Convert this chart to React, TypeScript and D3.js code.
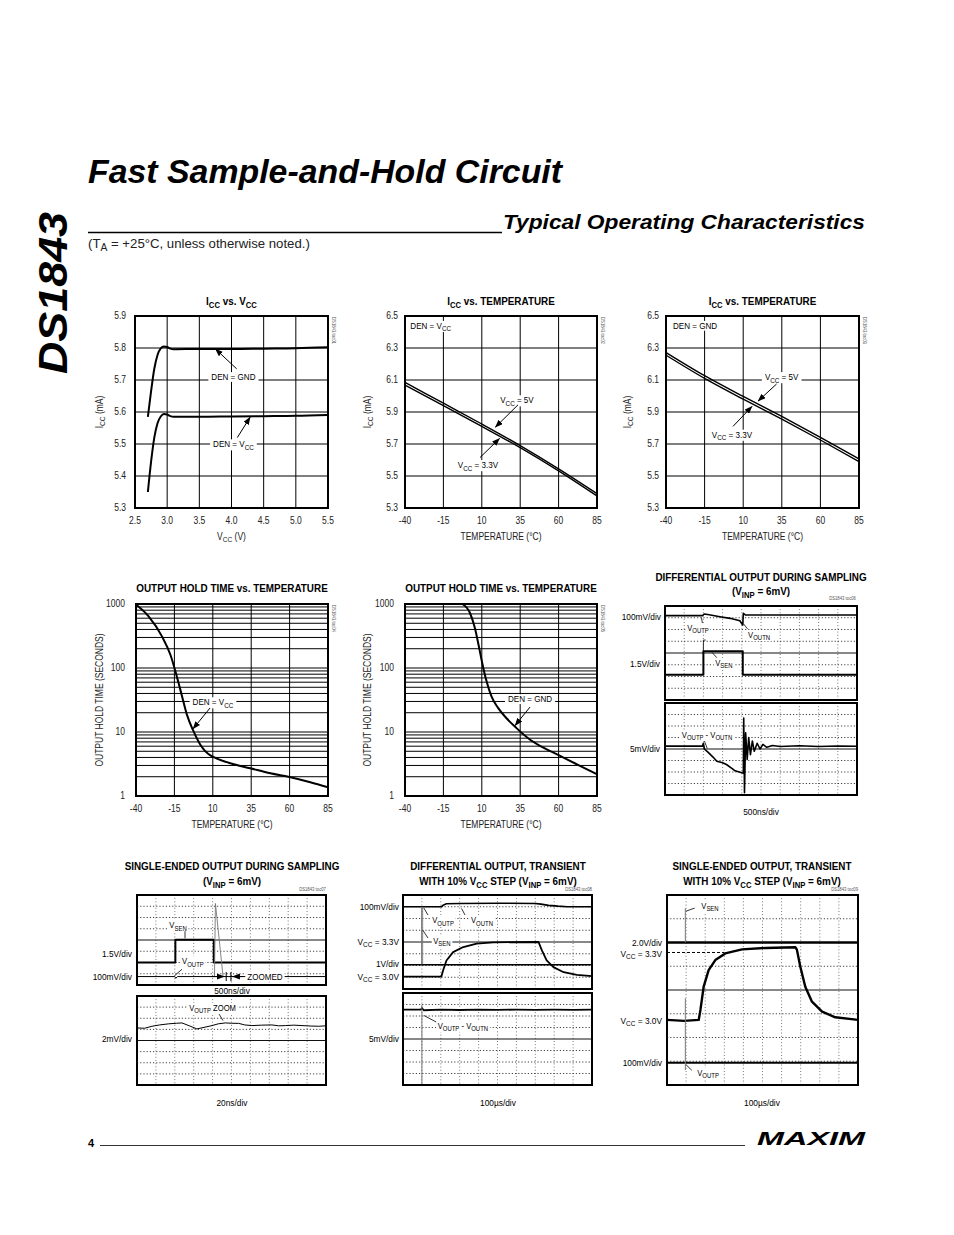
import React, { useLayoutEffect, useRef, useState } from "react";
import * as d3 from "d3";

type Pt = [number, number];

const FONT = "'Liberation Sans Narrow', 'Liberation Sans', Arial, sans-serif";

// ---------- Chart 1: ICC vs VCC ----------
const vccTicks = [2.5, 3.0, 3.5, 4.0, 4.5, 5.0, 5.5];
const iccVsVccTicks = [5.3, 5.4, 5.5, 5.6, 5.7, 5.8, 5.9];
const iccVsVccDenGnd: Pt[] = [[2.7, 5.585], [2.75, 5.665], [2.8, 5.735], [2.85, 5.778], [2.9, 5.799], [2.95, 5.805], [3.0, 5.803], [3.05, 5.798], [3.1, 5.796], [3.5, 5.797], [4.0, 5.797], [4.5, 5.798], [5.0, 5.799], [5.5, 5.802]];
const iccVsVccDenVcc: Pt[] = [[2.7, 5.35], [2.75, 5.445], [2.8, 5.52], [2.85, 5.565], [2.9, 5.586], [2.95, 5.594], [3.0, 5.592], [3.05, 5.587], [3.1, 5.585], [3.5, 5.585], [4.0, 5.586], [4.5, 5.587], [5.0, 5.588], [5.5, 5.591]];

// ---------- Charts 2 & 3: ICC vs temperature ----------
const tempTicks = [-40, -15, 10, 35, 60, 85];
const iccVsTempTicks = [5.3, 5.5, 5.7, 5.9, 6.1, 6.3, 6.5];
const iccTempDenVcc5V: Pt[] = [[-40, 6.085], [-15, 5.955], [10, 5.825], [35, 5.69], [60, 5.545], [85, 5.39]];
const iccTempDenVcc33V: Pt[] = [[-40, 6.068], [-15, 5.94], [10, 5.81], [35, 5.677], [60, 5.532], [85, 5.375]];
const iccTempDenGnd5V: Pt[] = [[-40, 6.272], [-15, 6.127], [10, 5.997], [35, 5.872], [60, 5.742], [85, 5.607]];
const iccTempDenGnd33V: Pt[] = [[-40, 6.255], [-15, 6.11], [10, 5.98], [35, 5.855], [60, 5.725], [85, 5.59]];

// ---------- Charts 4 & 5: output hold time ----------
const holdTicks = [1, 10, 100, 1000];
const holdDenVcc: Pt[] = [[-40, 980], [-31.8, 640], [-23.1, 312], [-17.6, 161], [-13.7, 78], [-10, 36], [-6.8, 18.5], [-2.5, 10.2], [1.9, 6.3], [8.4, 4.3], [10.6, 4.05], [21.4, 3.24], [34.4, 2.71], [47.5, 2.26], [60.5, 1.96], [73.5, 1.64], [85, 1.37]];
const holdDenGnd: Pt[] = [[-2.7, 1000], [2.3, 723], [5.5, 421], [8.1, 217], [10.3, 119], [13.1, 62], [16.3, 36], [20.7, 23.6], [26.1, 16.4], [32.6, 11.5], [40.2, 8.0], [48.8, 5.9], [59.7, 4.4], [70.5, 3.25], [79.2, 2.55], [85, 2.18]];

// ---------- Scope traces (x: divisions 0..10, y: divisions 0..8 from top) ----------
const toc6Vsen: Pt[] = [[0, 5.85], [2.0, 5.85], [2.0, 3.86], [4.05, 3.86], [4.05, 5.85], [10, 5.85]];
const toc6VsenGlitch: Pt[] = [[2.0, 3.86], [2.0, 2.9], [2.12, 2.9]];
const toc6Vout: Pt[] = [[0, 0.82], [1.95, 0.82], [2.05, 0.68], [2.3, 0.75], [2.86, 0.91], [3.39, 1.05], [3.9, 1.25], [4.05, 1.62], [4.08, 0.62], [4.2, 0.77], [10, 0.77]];
const toc6Diff: Pt[] = [[0, 3.75], [1.95, 3.75], [2.0, 3.5], [2.05, 4.0], [2.25, 4.3], [2.5, 4.7], [2.7, 5.06], [3.0, 5.2], [3.2, 5.35], [3.5, 5.7], [3.65, 5.9], [4.0, 6.07], [4.08, 6.1], [4.1, 1.3], [4.14, 7.8], [4.2, 2.6], [4.28, 4.9], [4.36, 3.0], [4.45, 4.5], [4.55, 3.3], [4.65, 4.2], [4.8, 3.5], [4.95, 4.0], [5.1, 3.6], [5.3, 3.85], [5.6, 3.7], [6.0, 3.78], [7, 3.72], [8, 3.78], [9, 3.74], [10, 3.76]];

const toc7Vsen: Pt[] = [[0, 6.0], [2.03, 6.0], [2.03, 3.97], [4.06, 3.97], [4.06, 6.0], [10, 6.0]];
const toc7Spike: Pt[] = [[4.1, 7.2], [4.15, 0.75], [4.55, 7.2]];
const toc7Voutp: Pt[] = [[0, 7.25], [2.0, 7.25], [2.05, 7.4], [2.15, 7.25], [10, 7.25]];
const toc7Zoom: Pt[] = [[0, 2.87], [0.4, 2.9], [0.79, 2.72], [1.2, 2.6], [1.68, 2.5], [2.1, 2.45], [2.38, 2.42], [2.8, 2.7], [3.17, 2.96], [3.6, 2.8], [3.97, 2.66], [4.3, 2.5], [4.67, 2.42], [5.0, 2.45], [5.38, 2.46], [5.7, 2.6], [6.08, 2.66], [6.6, 2.62], [7.14, 2.6], [7.5, 2.68], [7.85, 2.66], [8.3, 2.62], [8.73, 2.66], [9.2, 2.7], [9.61, 2.72], [10, 2.68]];

const toc8Vout: Pt[] = [[0, 1.0], [2.03, 1.0], [2.15, 0.85], [2.3, 0.75], [3, 0.72], [5, 0.7], [7.0, 0.72], [7.3, 0.78], [7.7, 0.88], [8.2, 0.95], [8.7, 1.0], [10, 1.0]];
const toc8Vsen: Pt[] = [[0, 6.94], [2.03, 6.94], [2.12, 6.43], [2.3, 5.57], [2.65, 4.86], [3.19, 4.43], [3.9, 4.14], [4.78, 4.03], [7.17, 4.0], [7.35, 4.71], [7.6, 5.57], [7.96, 6.14], [8.5, 6.57], [9.2, 6.8], [10, 6.9]];
const toc8Ref: Pt[] = [[0, 5.94], [10, 5.94]];
const toc8SpikeA: Pt[] = [[0.98, 1.0], [0.98, 5.9]];
const toc8SpikeB: Pt[] = [[1.04, 1.0], [1.04, 5.9]];
const toc8Diff: Pt[] = [[0, 1.45], [0.95, 1.45], [1.0, 1.3], [1.1, 1.5], [2, 1.45], [3, 1.48], [4, 1.44], [5, 1.46], [6, 1.45], [7, 1.47], [8, 1.45], [9, 1.46], [10, 1.45]];
const toc8DiffSpike: Pt[] = [[1.0, 1.0], [1.0, 8.0]];

const toc9Vsen: Pt[] = [[0, 2.0], [10, 2.0]];
const toc9VsenSpike: Pt[] = [[0.96, 2.0], [0.96, 0.56]];
const toc9Step: Pt[] = [[0, 5.26], [0.9, 5.3], [1.66, 5.26], [1.75, 4.84], [1.92, 3.86], [2.18, 3.16], [2.53, 2.74], [3.05, 2.46], [3.93, 2.29], [5.15, 2.23], [6.72, 2.2], [6.8, 2.3], [6.98, 3.02], [7.24, 3.86], [7.59, 4.49], [8.12, 4.91], [8.81, 5.15], [10, 5.26]];
const toc9Voutp: Pt[] = [[0, 7.06], [10, 7.06]];
const toc9VoutpSpike: Pt[] = [[0.96, 4.35], [0.96, 7.37]];
const toc9VccMark: Pt[] = [[0, 2.42], [3.0, 2.42]];

// ---------- helpers ----------
function rich(text: string, fs: number) {
  const parts = text.split(/(_\{[^}]*\})/);
  const out: any[] = [];
  let shifted = false;
  const sh = fs * 0.25;
  parts.forEach((p, i) => {
    if (!p) return;
    if (p.startsWith("_{")) {
      out.push(<tspan key={i} fontSize={fs * 0.78} dy={shifted ? 0 : sh}>{p.slice(2, -1)}</tspan>);
      shifted = true;
    } else {
      out.push(<tspan key={i} dy={shifted ? -sh : 0}>{p}</tspan>);
      shifted = false;
    }
  });
  return out;
}

function Txt({ x, y, text, fs = 9.5, anchor = "start", weight = 400, italic = false, rotate = 0, bg = false, pad = 1.5, fill = "#000", textLength, sx = 0.85 }: any) {
  const ref = useRef<SVGTextElement>(null);
  const [bb, setBb] = useState<any>(null);
  useLayoutEffect(() => {
    if (bg && ref.current) {
      const b = ref.current.getBBox();
      setBb({ x: b.x, y: b.y, w: b.width, h: b.height });
    }
  }, [bg, x, y, text, fs]);
  let tf = "";
  if (rotate) tf += `rotate(${rotate},${x},${y}) `;
  if (sx !== 1) tf += `translate(${x},${y}) scale(${sx},1) translate(${-x},${-y})`;
  return (
    <g transform={tf || undefined}>
      {bg && bb && <rect x={bb.x - pad / sx} y={bb.y + 0.5} width={bb.w + (2 * pad) / sx} height={bb.h - 1} fill="#fff" />}
      <text
        ref={ref}
        x={x}
        y={y}
        fontSize={fs}
        textAnchor={anchor}
        fontWeight={weight}
        fontStyle={italic ? "italic" : "normal"}
        fill={fill}
        textLength={textLength}
        lengthAdjust={textLength ? "spacingAndGlyphs" : undefined}
      >
        {rich(text, fs)}
      </text>
    </g>
  );
}

// centered label (y = visual center)
const CL = (props: any) => <Txt {...props} y={props.y + (props.fs ?? 9) * 0.36} fs={props.fs ?? 9} anchor={props.anchor ?? "middle"} />;

function Arrow({ x1, y1, x2, y2, head = true, w = 1 }: any) {
  return <line x1={x1} y1={y1} x2={x2} y2={y2} stroke="#000" strokeWidth={w} markerEnd={head ? "url(#ah)" : undefined} />;
}

const TITLE_FS = 11.5;
const TITLE_SX = 0.86;

function XYChart(p: any) {
  const x = d3.scaleLinear(p.xDomain, [p.left, p.left + p.width]);
  const y: any = (p.yLog ? d3.scaleLog() : d3.scaleLinear()).domain(p.yDomain).range([p.top + p.height, p.top]);
  const hLines: number[] = p.yLog ? y.ticks() : p.yTicks;
  const right = p.left + p.width;
  const bottom = p.top + p.height;
  return (
    <g>
      <Txt x={p.left + p.width / 2} y={p.titleY} text={p.title} fs={TITLE_FS} weight={700} anchor="middle" sx={TITLE_SX} />
      {p.xTicks.slice(1, -1).map((t: number) => (
        <line key={"gx" + t} x1={x(t)} x2={x(t)} y1={p.top} y2={bottom} stroke="#000" strokeWidth={1} />
      ))}
      {hLines.filter((t) => t > p.yDomain[0] && t < p.yDomain[1]).map((t) => (
        <line key={"gy" + t} x1={p.left} x2={right} y1={y(t)} y2={y(t)} stroke="#000" strokeWidth={1} />
      ))}
      {p.children(x, y)}
      <rect x={p.left} y={p.top} width={p.width} height={p.height} fill="none" stroke="#000" strokeWidth={2} />
      {p.xTicks.map((t: number) => (
        <Txt key={"tx" + t} x={x(t)} y={p.xTickY} text={p.xFmt(t)} anchor="middle" fs={10} fill="#222" />
      ))}
      {p.yTicks.map((t: number) => (
        <Txt key={"ty" + t} x={p.left - p.yGap} y={y(t) + 3.5} text={p.yFmt(t)} anchor="end" fs={10} fill="#222" />
      ))}
      <Txt x={p.left + p.width / 2} y={p.xTitleY} text={p.xTitle} anchor="middle" fs={10} fill="#222" />
      <Txt x={p.yTitleX} y={p.top + p.height / 2} text={p.yTitle} anchor="middle" fs={10} rotate={-90} fill="#222" />
      <Txt x={right + 3.5} y={p.top + 1} text={p.toc} fs={5} rotate={90} fill="#555" />
    </g>
  );
}

function ScopeFrame({ left, top, width, height, children }: any) {
  const x = d3.scaleLinear([0, 10], [left, left + width]);
  const y = d3.scaleLinear([0, 8], [top, top + height]);
  return (
    <g>
      {d3.range(1, 10).map((i) => (
        <line key={"v" + i} x1={x(i)} x2={x(i)} y1={top} y2={top + height} stroke="#444" strokeWidth={0.8} strokeDasharray="0.9 2.3" />
      ))}
      {d3.range(1, 8).map((i) => (
        <line key={"h" + i} x1={left} x2={left + width} y1={y(i)} y2={y(i)} stroke="#111" strokeWidth={i === 4 ? 1 : 0.8} strokeDasharray={i === 4 ? undefined : "1.2 2"} />
      ))}
      {children(x, y)}
      <rect x={left} y={top} width={width} height={height} fill="none" stroke="#000" strokeWidth={2} />
    </g>
  );
}

function trace(x: any, y: any, data: Pt[], w = 1.6, color = "#000", dash?: string) {
  const g = d3.line<Pt>().x((d) => x(d[0])).y((d) => y(d[1]));
  return <path d={g(data) || ""} fill="none" stroke={color} strokeWidth={w} strokeDasharray={dash} strokeLinejoin="round" />;
}

function smooth(x: any, y: any, data: Pt[], w = 2) {
  const g = d3.line<Pt>().x((d) => x(d[0])).y((d) => y(d[1])).curve(d3.curveMonotoneX);
  return <path d={g(data) || ""} fill="none" stroke="#000" strokeWidth={w} strokeLinejoin="round" />;
}

const f1 = d3.format(".1f");
const fInt = (v: number) => String(v);
const DIV_FS = 9.8;

export default function App() {
  return (
    <div style={{ position: "absolute", left: 0, top: 0 }}>
      <svg width={954} height={1235} viewBox="0 0 954 1235" style={{ display: "block", background: "#fff" }} fontFamily={FONT}>
        <defs>
          <marker id="ah" markerUnits="userSpaceOnUse" markerWidth={8} markerHeight={6} refX={7.5} refY={3} orient="auto">
            <path d="M0,0 L8,3 L0,6 Z" fill="#000" />
          </marker>
        </defs>
        <rect x={0} y={0} width={954} height={1235} fill="#fff" />

        {/* Page header */}
        <Txt x={67} y={374} rotate={-90} text="DS1843" fs={40} weight={700} italic textLength={162} sx={1} />
        <Txt x={88} y={183} text="Fast Sample-and-Hold Circuit" fs={33} weight={700} italic textLength={474} sx={1} />
        <line x1={88} x2={502} y1={232.5} y2={232.5} stroke="#000" strokeWidth={1.5} />
        <Txt x={503} y={229} text="Typical Operating Characteristics" fs={20} weight={700} italic textLength={362} sx={1} />
        <Txt x={88} y={248} text="(T_{A} = +25°C, unless otherwise noted.)" fs={13.2} fill="#222" sx={1} />

        {/* Chart 1 */}
        <XYChart left={135} top={316} width={193} height={192} xDomain={[2.5, 5.5]} yDomain={[5.3, 5.9]}
          xTicks={vccTicks} yTicks={iccVsVccTicks} xFmt={f1} yFmt={f1} yGap={9}
          title="I_{CC} vs. V_{CC}" titleY={305} xTitle="V_{CC} (V)" yTitle="I_{CC} (mA)" yTitleX={103}
          xTickY={524} xTitleY={540} toc="DS1843 toc01">
          {(x: any, y: any) => (
            <g>
              {smooth(x, y, iccVsVccDenGnd, 2)}
              {smooth(x, y, iccVsVccDenVcc, 2)}
              <CL x={x(4.03)} y={y(5.71)} text="DEN = GND" fs={9.5} bg pad={3} />
              <Arrow x1={x(4.08)} y1={y(5.735)} x2={x(3.75)} y2={y(5.797)} />
              <CL x={x(4.03)} y={y(5.5)} text="DEN = V_{CC}" fs={9.5} bg pad={3} />
              <Arrow x1={x(4.09)} y1={y(5.52)} x2={x(4.29)} y2={y(5.584)} />
            </g>
          )}
        </XYChart>

        {/* Chart 2 */}
        <XYChart left={405} top={316} width={192} height={192} xDomain={[-40, 85]} yDomain={[5.3, 6.5]}
          xTicks={tempTicks} yTicks={iccVsTempTicks} xFmt={fInt} yFmt={f1} yGap={7}
          title="I_{CC} vs. TEMPERATURE" titleY={305} xTitle="TEMPERATURE (°C)" yTitle="I_{CC} (mA)" yTitleX={371}
          xTickY={524} xTitleY={540} toc="DS1843 toc02">
          {(x: any, y: any) => (
            <g>
              {smooth(x, y, iccTempDenVcc5V, 1.4)}
              {smooth(x, y, iccTempDenVcc33V, 1.4)}
              <CL x={x(-36.5)} y={y(6.44)} text="DEN = V_{CC}" fs={9.5} anchor="start" bg pad={2} />
              <CL x={x(32.9)} y={y(5.975)} text="V_{CC} = 5V" fs={9.5} bg pad={3} />
              <Arrow x1={x(33.6)} y1={y(5.945)} x2={x(18.8)} y2={y(5.805)} />
              <CL x={x(7.5)} y={y(5.57)} text="V_{CC} = 3.3V" fs={9.5} bg pad={3} />
              <Arrow x1={x(8.8)} y1={y(5.615)} x2={x(21.6)} y2={y(5.735)} />
            </g>
          )}
        </XYChart>

        {/* Chart 3 */}
        <XYChart left={666} top={316} width={193} height={192} xDomain={[-40, 85]} yDomain={[5.3, 6.5]}
          xTicks={tempTicks} yTicks={iccVsTempTicks} xFmt={fInt} yFmt={f1} yGap={7}
          title="I_{CC} vs. TEMPERATURE" titleY={305} xTitle="TEMPERATURE (°C)" yTitle="I_{CC} (mA)" yTitleX={631}
          xTickY={524} xTitleY={540} toc="DS1843 toc03">
          {(x: any, y: any) => (
            <g>
              {smooth(x, y, iccTempDenGnd5V, 1.4)}
              {smooth(x, y, iccTempDenGnd33V, 1.4)}
              <CL x={x(-35.5)} y={y(6.44)} text="DEN = GND" fs={9.5} anchor="start" bg pad={2} />
              <CL x={x(34.9)} y={y(6.12)} text="V_{CC} = 5V" fs={9.5} bg pad={3} />
              <Arrow x1={x(31.6)} y1={y(6.075)} x2={x(19.6)} y2={y(5.968)} />
              <CL x={x(2.7)} y={y(5.76)} text="V_{CC} = 3.3V" fs={9.5} bg pad={3} />
              <Arrow x1={x(3.4)} y1={y(5.81)} x2={x(15.7)} y2={y(5.935)} />
            </g>
          )}
        </XYChart>

        {/* Chart 4 */}
        <XYChart left={136} top={604} width={192} height={192} xDomain={[-40, 85]} yDomain={[1, 1000]} yLog
          xTicks={tempTicks} yTicks={holdTicks} xFmt={fInt} yFmt={fInt} yGap={11}
          title="OUTPUT HOLD TIME vs. TEMPERATURE" titleY={592} xTitle="TEMPERATURE (°C)" yTitle="OUTPUT HOLD TIME (SECONDS)" yTitleX={103}
          xTickY={812} xTitleY={828} toc="DS1843 toc04">
          {(x: any, y: any) => (
            <g>
              {smooth(x, y, holdDenVcc, 2)}
              <CL x={x(10.1)} y={y(29.5)} text="DEN = V_{CC}" fs={9.5} bg pad={3} />
              <Arrow x1={x(8.2)} y1={y(23.7)} x2={x(-2.9)} y2={y(11.2)} />
            </g>
          )}
        </XYChart>

        {/* Chart 5 */}
        <XYChart left={405} top={604} width={192} height={192} xDomain={[-40, 85]} yDomain={[1, 1000]} yLog
          xTicks={tempTicks} yTicks={holdTicks} xFmt={fInt} yFmt={fInt} yGap={11}
          title="OUTPUT HOLD TIME vs. TEMPERATURE" titleY={592} xTitle="TEMPERATURE (°C)" yTitle="OUTPUT HOLD TIME (SECONDS)" yTitleX={371}
          xTickY={812} xTitleY={828} toc="DS1843 toc05">
          {(x: any, y: any) => (
            <g>
              {smooth(x, y, holdDenGnd, 2)}
              <CL x={x(41.4)} y={y(32.8)} text="DEN = GND" fs={9.5} bg pad={3} />
              <Arrow x1={x(41.4)} y1={y(24.5)} x2={x(31.6)} y2={y(12.6)} />
            </g>
          )}
        </XYChart>

        {/* Chart 6 */}
        <Txt x={761} y={581} text="DIFFERENTIAL OUTPUT DURING SAMPLING" fs={TITLE_FS} weight={700} anchor="middle" sx={TITLE_SX} />
        <Txt x={761} y={595} text="(V_{INP} = 6mV)" fs={TITLE_FS} weight={700} anchor="middle" sx={TITLE_SX} />
        <Txt x={856} y={600} text="DS1843 toc06" fs={5} anchor="end" fill="#555" />
        <ScopeFrame left={665} top={606} width={192} height={94}>
          {(x: any, y: any) => (
            <g>
              {trace(x, y, toc6Vsen, 2)}
              {trace(x, y, toc6VsenGlitch, 0.8)}
              {trace(x, y, toc6Vout, 1.6)}
              <line x1={x(1.95)} y1={y(1.5)} x2={x(1.9)} y2={y(0.98)} stroke="#000" strokeWidth={0.8} />
              <CL x={x(1.72)} y={y(1.87)} text="V_{OUTP}" bg />
              <line x1={x(4.3)} y1={y(1.95)} x2={x(4.08)} y2={y(1.5)} stroke="#000" strokeWidth={0.8} />
              <CL x={x(4.9)} y={y(2.47)} text="V_{OUTN}" bg />
              <line x1={x(2.7)} y1={y(4.4)} x2={x(2.45)} y2={y(3.95)} stroke="#000" strokeWidth={0.8} />
              <CL x={x(3.07)} y={y(4.85)} text="V_{SEN}" bg />
            </g>
          )}
        </ScopeFrame>
        <ScopeFrame left={665} top={703} width={192} height={92}>
          {(x: any, y: any) => (
            <g>
              {trace(x, y, toc6Diff, 1.6)}
              <line x1={x(2.05)} y1={y(3.3)} x2={x(2.2)} y2={y(3.95)} stroke="#000" strokeWidth={0.8} />
              <CL x={x(2.19)} y={y(2.78)} text="V_{OUTP} - V_{OUTN}" bg />
            </g>
          )}
        </ScopeFrame>
        <CL x={661} y={616} text="100mV/div" anchor="end" fs={DIV_FS} />
        <CL x={660} y={663} text="1.5V/div" anchor="end" fs={DIV_FS} />
        <CL x={660} y={748} text="5mV/div" anchor="end" fs={DIV_FS} />
        <CL x={761} y={811} text="500ns/div" fs={DIV_FS} />

        {/* Chart 7 */}
        <Txt x={232} y={870} text="SINGLE-ENDED OUTPUT DURING SAMPLING" fs={TITLE_FS} weight={700} anchor="middle" sx={TITLE_SX} />
        <Txt x={232} y={885} text="(V_{INP} = 6mV)" fs={TITLE_FS} weight={700} anchor="middle" sx={TITLE_SX} />
        <Txt x={326} y={891} text="DS1843 toc07" fs={5} anchor="end" fill="#555" />
        <ScopeFrame left={137} top={895} width={189} height={90}>
          {(x: any, y: any) => (
            <g>
              {trace(x, y, toc7Voutp, 1)}
              {trace(x, y, toc7Vsen, 2)}
              {trace(x, y, toc7Spike, 0.9, "#777")}
              <line x1={x(2.54)} y1={y(3.1)} x2={x(2.54)} y2={y(3.85)} stroke="#000" strokeWidth={0.8} />
              <CL x={x(2.17)} y={y(2.67)} text="V_{SEN}" bg />
              <line x1={x(2.38)} y1={y(6.6)} x2={x(2.0)} y2={y(7.15)} stroke="#000" strokeWidth={0.8} />
              <CL x={x(2.96)} y={y(5.87)} text="V_{OUTP}" bg />
              <Arrow x1={x(3.9)} y1={y(7.25)} x2={x(4.62)} y2={y(7.25)} />
              <line x1={x(4.72)} x2={x(4.72)} y1={y(6.85)} y2={y(7.65)} stroke="#000" strokeWidth={1} />
              <line x1={x(4.97)} x2={x(4.97)} y1={y(6.85)} y2={y(7.65)} stroke="#000" strokeWidth={1} />
              <Arrow x1={x(5.6)} y1={y(7.25)} x2={x(5.05)} y2={y(7.25)} />
              <CL x={x(6.77)} y={y(7.25)} text="ZOOMED" fs={9.5} bg pad={2} />
            </g>
          )}
        </ScopeFrame>
        <ScopeFrame left={137} top={996} width={189} height={89}>
          {(x: any, y: any) => (
            <g>
              {trace(x, y, toc7Zoom, 1)}
              <line x1={x(4.3)} y1={y(1.5)} x2={x(4.55)} y2={y(2.2)} stroke="#000" strokeWidth={0.8} />
              <CL x={x(4.0)} y={y(1.08)} text="V_{OUTP} ZOOM" bg />
            </g>
          )}
        </ScopeFrame>
        <CL x={132} y={953} text="1.5V/div" anchor="end" fs={DIV_FS} />
        <CL x={132} y={976} text="100mV/div" anchor="end" fs={DIV_FS} />
        <CL x={232} y={990} text="500ns/div" fs={DIV_FS} />
        <CL x={132} y={1038} text="2mV/div" anchor="end" fs={DIV_FS} />
        <CL x={232} y={1102} text="20ns/div" fs={DIV_FS} />

        {/* Chart 8 */}
        <Txt x={498} y={870} text="DIFFERENTIAL OUTPUT, TRANSIENT" fs={TITLE_FS} weight={700} anchor="middle" sx={TITLE_SX} />
        <Txt x={498} y={885} text="WITH 10% V_{CC} STEP (V_{INP} = 6mV)" fs={TITLE_FS} weight={700} anchor="middle" sx={TITLE_SX} />
        <Txt x={592} y={891} text="DS1843 toc08" fs={5} anchor="end" fill="#555" />
        <ScopeFrame left={403} top={895} width={189} height={94}>
          {(x: any, y: any) => (
            <g>
              {trace(x, y, toc8Ref, 1.4)}
              {trace(x, y, toc8Vsen, 1.8)}
              {trace(x, y, toc8Vout, 1.6)}
              {trace(x, y, toc8SpikeA, 0.9, "#777")}
              {trace(x, y, toc8SpikeB, 0.9, "#777")}
              <line x1={x(1.32)} y1={y(1.7)} x2={x(1.1)} y2={y(1.1)} stroke="#000" strokeWidth={0.8} />
              <CL x={x(2.12)} y={y(2.13)} text="V_{OUTP}" bg />
              <line x1={x(3.28)} y1={y(1.7)} x2={x(3.1)} y2={y(1.15)} stroke="#000" strokeWidth={0.8} />
              <CL x={x(4.18)} y={y(2.13)} text="V_{OUTN}" bg />
              <line x1={x(1.32)} y1={y(3.66)} x2={x(1.05)} y2={y(3.0)} stroke="#000" strokeWidth={0.8} />
              <CL x={x(2.06)} y={y(3.9)} text="V_{SEN}" bg />
            </g>
          )}
        </ScopeFrame>
        <ScopeFrame left={403} top={993} width={189} height={92}>
          {(x: any, y: any) => (
            <g>
              {trace(x, y, toc8Diff, 1.8)}
              {trace(x, y, toc8DiffSpike, 1, "#777")}
              <line x1={x(1.85)} y1={y(2.6)} x2={x(1.1)} y2={y(1.95)} stroke="#000" strokeWidth={0.8} />
              <CL x={x(3.17)} y={y(2.87)} text="V_{OUTP} - V_{OUTN}" bg />
            </g>
          )}
        </ScopeFrame>
        <CL x={399} y={906} text="100mV/div" anchor="end" fs={DIV_FS} />
        <CL x={399} y={941} text="V_{CC} = 3.3V" anchor="end" fs={DIV_FS} />
        <CL x={399} y={963} text="1V/div" anchor="end" fs={DIV_FS} />
        <CL x={399} y={976} text="V_{CC} = 3.0V" anchor="end" fs={DIV_FS} />
        <CL x={399} y={1038} text="5mV/div" anchor="end" fs={DIV_FS} />
        <CL x={498} y={1102} text="100µs/div" fs={DIV_FS} />

        {/* Chart 9 */}
        <Txt x={762} y={870} text="SINGLE-ENDED OUTPUT, TRANSIENT" fs={TITLE_FS} weight={700} anchor="middle" sx={TITLE_SX} />
        <Txt x={762} y={885} text="WITH 10% V_{CC} STEP (V_{INP} = 6mV)" fs={TITLE_FS} weight={700} anchor="middle" sx={TITLE_SX} />
        <Txt x={858} y={891} text="DS1843 toc09" fs={5} anchor="end" fill="#555" />
        <ScopeFrame left={667} top={895} width={191} height={190}>
          {(x: any, y: any) => (
            <g>
              {trace(x, y, toc9VccMark, 1, "#000", "3 2")}
              {trace(x, y, toc9Vsen, 2.4)}
              {trace(x, y, toc9Step, 2.4)}
              {trace(x, y, toc9Voutp, 2)}
              {trace(x, y, toc9VsenSpike, 1, "#777")}
              {trace(x, y, toc9VoutpSpike, 1, "#777")}
              <line x1={x(1.45)} y1={y(0.55)} x2={x(1.0)} y2={y(0.68)} stroke="#000" strokeWidth={0.8} />
              <CL x={x(2.25)} y={y(0.46)} text="V_{SEN}" bg />
              <line x1={x(1.3)} y1={y(7.38)} x2={x(1.0)} y2={y(7.15)} stroke="#000" strokeWidth={0.8} />
              <CL x={x(2.15)} y={y(7.49)} text="V_{OUTP}" bg />
            </g>
          )}
        </ScopeFrame>
        <CL x={662} y={942} text="2.0V/div" anchor="end" fs={DIV_FS} />
        <CL x={662} y={953} text="V_{CC} = 3.3V" anchor="end" fs={DIV_FS} />
        <CL x={662} y={1020} text="V_{CC} = 3.0V" anchor="end" fs={DIV_FS} />
        <CL x={662} y={1062} text="100mV/div" anchor="end" fs={DIV_FS} />
        <CL x={762} y={1102} text="100µs/div" fs={DIV_FS} />

        {/* Footer */}
        <Txt x={88} y={1147} text="4" fs={11} weight={700} sx={1} />
        <line x1={100} x2={745} y1={1145.5} y2={1145.5} stroke="#000" strokeWidth={0.8} />
        <Txt x={757} y={1145} text="MAXIM" fs={19} weight={900} italic textLength={108} sx={1} />
      </svg>
    </div>
  );
}
